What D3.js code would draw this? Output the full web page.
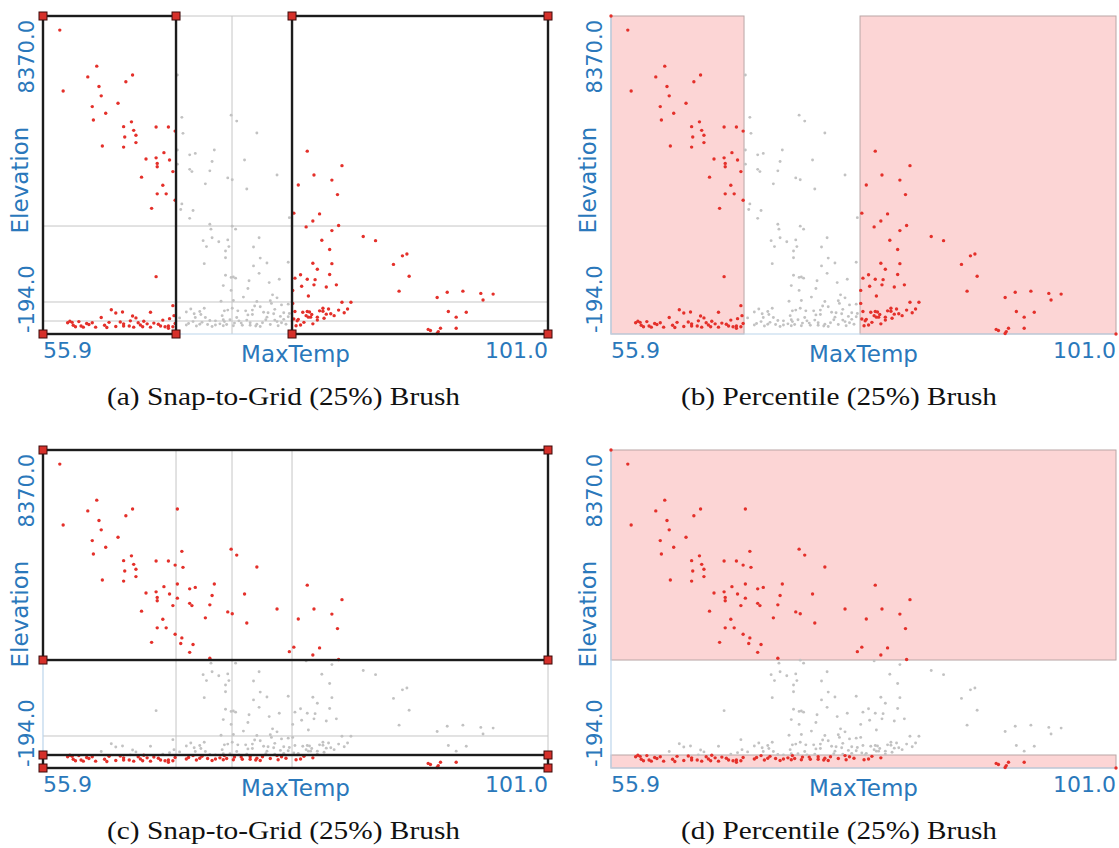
<!DOCTYPE html>
<html>
<head>
<meta charset="utf-8">
<script src="https://cdn.jsdelivr.net/npm/d3@7"></script>
<style>
  body { margin: 0; background: #fff; }
  text { font-family: "DejaVu Sans", Verdana, sans-serif; }
  .caption { font-family: "Liberation Serif", "Times New Roman", serif; fill: #111; }
</style>
</head>
<body>
<script>

  // weather stations: max temperature (F) and elevation (ft)
  var maxTemp = [
    55.9, 101.0,
    // cold / high stations
    57.4, 57.7, 59.9, 60.7, 60.9, 61.1, 60.3, 60.4, 61.5, 62.6, 63.3, 63.9, 61.2, 63.1, 63.8, 63.2,
    64.0, 64.2, 64.2, 63.1, 66.0, 67.1, 67.7, 65.1, 66.0, 66.7, 67.2, 66.1, 66.1, 67.5, 64.7, 66.6,
    66.1, 66.9, 65.6, 67.7, 66.0,
    // cold / low stations
    62.0, 62.4, 63.0, 61.1, 63.9, 64.2, 65.5, 67.5, 67.6, 67.2, 58.1, 58.5, 58.6, 58.8, 59.1, 59.3,
    59.5, 60.3, 61.8, 63.1, 63.1, 63.6, 63.7, 64.0, 64.4, 64.6, 64.8, 65.8, 66.6, 66.4, 66.8, 67.1,
    67.1, 67.5, 67.7, 58.3, 60.6, 62.4, 65.5, 65.2, 60.0, 61.4, 62.8, 64.9, 66.2, 61.6, 59.8,
    // middle temperatures
    67.9, 68.3, 68.4, 67.9, 72.7, 73.2, 75.0, 69.0, 69.5, 71.2, 71.0, 73.9, 67.9, 69.0, 69.2, 70.8,
    72.4, 72.8, 76.8, 70.4, 74.1, 68.3, 68.2, 69.3, 69.0, 70.8, 70.9, 70.2, 70.5, 71.0, 71.6, 72.4,
    72.5, 72.8, 73.1, 75.2, 74.7, 72.2, 72.2, 75.3, 75.9, 74.7, 75.2, 70.3, 72.2, 72.7, 72.9, 73.1,
    74.3, 77.0, 72.0, 76.1, 77.8, 77.9, 74.2, 72.7, 73.8, 76.4, 76.8, 76.2, 76.3, 71.8, 72.9, 75.0,
    75.3, 77.2, 77.8, 70.3, 69.9, 69.4, 72.1, 72.4, 72.8, 73.3, 74.0, 74.6, 74.2, 74.6, 75.6, 76.0,
    76.5, 77.4, 77.1, 69.5, 70.4, 70.8, 71.3, 72.0, 72.1, 72.6, 73.4, 73.6, 74.4, 75.0, 75.3, 75.8,
    76.6, 76.8, 77.2, 77.6, 69.9, 71.3, 72.9, 74.4, 72.0, 69.3, 77.8, 77.9, 68.7, 68.1, 68.7,
    68.9, 69.6, 70.1, 70.6, 71.0, 71.7, 72.3, 73.0, 73.7, 74.1, 74.9, 75.5, 76.2, 76.9, 77.4, 73.2,
    71.9, 75.9, 70.0, 69.1, 76.6, 74.8,
    // hot stations
    79.5, 82.6, 80.1, 81.7, 78.7, 82.2, 78.3, 80.6, 80.0, 79.4, 82.3, 81.7, 84.5, 85.6, 80.8, 81.5,
    88.0, 88.4, 87.2, 80.0, 81.7, 80.4, 88.6, 78.9, 78.4, 79.5, 80.2, 81.5, 79.0, 80.1, 81.2, 82.1,
    87.7, 79.6, 91.1, 92.0, 93.4, 95.0, 96.1, 95.2, 82.6, 83.4, 83.1, 82.8, 80.9, 81.4, 79.1, 79.5,
    79.7, 80.6, 81.2, 81.6, 79.4, 79.6, 80.4, 80.4, 78.7, 78.6, 78.9, 92.1, 93.7, 92.8, 92.8, 90.3,
    90.5, 91.4, 91.2, 91.1, 78.2, 78.2, 78.3, 79.8, 78.4, 79.9, 80.9, 81.9, 82.3, 79.2, 80.0, 78.5,
    81.0
  ];

  var elevation = [
    8370, -194,
    7990, 6350, 6730, 7020, 6470, 6220, 5930, 5570, 5750, 6020, 6600, 6780, 4870, 5390, 5520, 5110,
    5290, 5160, 4960, 4840, 5380, 5380, 5270, 4520, 4550, 4690, 4490, 4400, 4310, 4180, 4030, 3810,
    3580, 3580, 3190, 3410, 1350,
    460, 370, 400, 250, 290, 240, 390, 570, 300, 220, 110, 120, 40, 0, 140, 20,
    -10, 110, 120, 80, 20, 20, 160, -10, 110, 50, 0, 100, 180, 20, 0, 20,
    -40, 0, 90, 150, -10, 10, -10, 80, 60, 40, 130, 150, 70, -20, 90,
    6780, 5640, 5210, 4760, 5700, 5540, 5220, 4630, 4670, 4760, 4450, 4490, 4380, 4240, 4180, 4200,
    4010, 3960, 4090, 3850, 3710, 3310, 3160, 3130, 2920, 2760, 2630, 2320, 2160, 2400, 2290, 2340,
    2160, 2710, 2630, 2400, 2150, 2040, 1860, 1850, 1720, 1640, 1440, 1700, 1390, 1330, 1340, 1310,
    1240, 1280, 1110, 1190, 1740, 2940, 1030, 980, 800, 860, 780, 700, 630, 690, 710, 680,
    540, 590, 610, 500, 410, 350, 430, 450, 500, 430, 430, 450, 320, 330, 390, 380,
    350, 380, 280, 250, 250, 170, 160, 190, 140, 190, 160, 100, 110, 70, 10, 190,
    180, 140, 110, 70, 70, 50, 30, 40, 30, 140, 270, 360, 400, 240, 50,
    90, 20, 120, 60, 10, 80, 60, 100, 40, 180, 20, 110, 60, 30, 200, 250,
    300, 260, 330, 480, 470, 560,
    4730, 4340, 4090, 3950, 3820, 3560, 3060, 3040, 2850, 2690, 2730, 2590, 2430, 2320, 2330, 2080,
    1910, 1960, 1680, 1710, 1700, 1550, 1360, 1400, 1310, 1280, 1270, 1410, 1090, 1130, 1070, 1130,
    960, 830, 790, 930, 960, 900, 880, 720, 660, 660, 480, 380, 500, 480, 390, 410,
    400, 430, 340, 350, 300, 260, 260, 180, 200, 160, 50, 410, 390, 260, -40, -70,
    -100, -40, -130, -180, 980, 630, 210, 260, 410, 330, 420, 300, 450, 120, 80, 30,
    230
  ];

  var tempExtent = [55.9, 101.0],
      elevExtent = [-194, 8370];

  // 25% grid lines (quartiles)
  var tempQuartiles = [67.78, 72.78, 78.14],
      elevQuartiles = [156, 668, 2714];

  var xTickLabels = ['55.9', '101.0'],
      yTickLabels = ['-194.0', '8370.0'];

  var captions = [
    '(a) Snap-to-Grid (25%) Brush',
    '(b) Percentile (25%) Brush',
    '(c) Snap-to-Grid (25%) Brush',
    '(d) Percentile (25%) Brush'
  ];
  var brushKinds = ['snap', 'percentile', 'snap', 'percentile'],
      brushDims = ['x', 'x', 'y', 'y'];

  var width = 1119,
      height = 848,
      plotW = 505,
      plotH = 318,
      colX = [43, 611],
      rowY = [16, 450],
      captionX = [283.5, 839],
      captionY = [405, 839],
      captionW = [353, 316];

  var blue = '#2a78bb',
      red = '#e4302a',
      grey = '#c2c2c2';

  var stations = maxTemp.map(function(t, i) {
    return {t: t, e: elevation[i]};
  });

  var x = d3.scaleLinear().domain(tempExtent).range([0, plotW]);
  var y = d3.scaleLinear().domain(elevExtent).range([plotH, 0]);

  var svg = d3.select('body')
    .append('svg')
      .attr('width', width)
      .attr('height', height);

  captions.forEach(function(caption, idx) {
    var col = idx % 2,
        row = Math.floor(idx / 2),
        kind = brushKinds[idx],
        dim = brushDims[idx];

    // brushed ranges: lower and upper quartile of one dimension
    var ranges = dim === 'x'
      ? [[tempExtent[0], tempQuartiles[0]], [tempQuartiles[2], tempExtent[1]]]
      : [[elevQuartiles[2], elevExtent[1]], [elevExtent[0], elevQuartiles[0]]];

    var boxes = ranges.map(function(r) {
      if (dim === 'x') return {x0: x(r[0]), x1: x(r[1]), y0: 0, y1: plotH};
      return {x0: 0, x1: plotW, y0: y(r[1]), y1: y(r[0])};
    });

    function selected(d) {
      var v = dim === 'x' ? d.t : d.e;
      return ranges.some(function(r) { return v >= r[0] && v <= r[1]; });
    }

    var g = svg.append('g')
      .attr('transform', 'translate(' + colX[col] + ',' + rowY[row] + ')');

    if (kind === 'percentile') {
      g.selectAll('.fill')
        .data(boxes)
        .enter()
      .append('rect')
        .attr('class', 'fill')
        .attr('x', function(b) { return b.x0; })
        .attr('y', function(b) { return b.y0; })
        .attr('width', function(b) { return b.x1 - b.x0; })
        .attr('height', function(b) { return b.y1 - b.y0; })
        .attr('fill', '#fcd5d5')
        .attr('stroke', '#b9a6a6')
        .attr('stroke-width', 1);
    } else {
      // quartile grid plus top/right frame
      g.selectAll('.vgrid')
        .data(tempQuartiles.concat([tempExtent[1]]))
        .enter()
      .append('line')
        .attr('x1', function(d) { return x(d); })
        .attr('x2', function(d) { return x(d); })
        .attr('y1', 0)
        .attr('y2', plotH)
        .attr('stroke', '#c6c6c6');
      g.selectAll('.hgrid')
        .data(elevQuartiles.concat([elevExtent[1]]))
        .enter()
      .append('line')
        .attr('x1', 0)
        .attr('x2', plotW)
        .attr('y1', function(d) { return y(d); })
        .attr('y2', function(d) { return y(d); })
        .attr('stroke', '#c6c6c6');
    }

    // left and bottom axis lines
    g.append('path')
      .attr('d', 'M0,0V' + plotH + 'H' + plotW)
      .attr('fill', 'none')
      .attr('stroke', '#bcd5ec')
      .attr('stroke-width', 1.2);

    g.selectAll('.dot')
      .data(stations.slice().sort(function(a, b) { return selected(a) - selected(b); }))
      .enter()
    .append('circle')
      .attr('cx', function(d) { return x(d.t); })
      .attr('cy', function(d) { return y(d.e); })
      .attr('r', function(d) { return selected(d) ? 1.7 : 1.45; })
      .attr('fill', function(d) { return selected(d) ? red : grey; });

    if (kind === 'snap') {
      g.selectAll('.box')
        .data(boxes)
        .enter()
      .append('rect')
        .attr('x', function(b) { return b.x0; })
        .attr('y', function(b) { return b.y0; })
        .attr('width', function(b) { return b.x1 - b.x0; })
        .attr('height', function(b) { return b.y1 - b.y0; })
        .attr('fill', 'none')
        .attr('stroke', '#1c1c1c')
        .attr('stroke-width', 2.4);

      var corners = [];
      boxes.forEach(function(b) {
        corners.push([b.x0, b.y0], [b.x1, b.y0], [b.x0, b.y1], [b.x1, b.y1]);
      });
      g.selectAll('.handle')
        .data(corners)
        .enter()
      .append('rect')
        .attr('x', function(c) { return c[0] - 4; })
        .attr('y', function(c) { return c[1] - 4; })
        .attr('width', 8)
        .attr('height', 8)
        .attr('fill', '#d6302a')
        .attr('stroke', '#3c0a0a')
        .attr('stroke-width', 1);
    }

    // tick labels at the ends of each axis
    g.append('text')
      .attr('x', x(tempExtent[0]))
      .attr('y', plotH + 24)
      .attr('font-size', 22)
      .attr('fill', blue)
      .text(xTickLabels[0]);
    g.append('text')
      .attr('x', x(tempExtent[1]))
      .attr('y', plotH + 24)
      .attr('text-anchor', 'end')
      .attr('font-size', 22)
      .attr('fill', blue)
      .text(xTickLabels[1]);
    g.append('text')
      .attr('x', plotW / 2)
      .attr('y', plotH + 28)
      .attr('text-anchor', 'middle')
      .attr('font-size', 23)
      .attr('fill', blue)
      .text('MaxTemp');

    g.append('text')
      .attr('transform', 'translate(-9,' + (y(elevExtent[0]) - 1) + ') rotate(-90)')
      .attr('font-size', 21)
      .attr('fill', blue)
      .text(yTickLabels[0]);
    g.append('text')
      .attr('transform', 'translate(-9,' + (y(elevExtent[1]) + 4) + ') rotate(-90)')
      .attr('text-anchor', 'end')
      .attr('font-size', 21)
      .attr('fill', blue)
      .text(yTickLabels[1]);
    g.append('text')
      .attr('transform', 'translate(-15,' + (plotH / 2 + 5) + ') rotate(-90)')
      .attr('text-anchor', 'middle')
      .attr('font-size', 23)
      .attr('fill', blue)
      .text('Elevation');

    svg.append('text')
      .attr('class', 'caption')
      .attr('x', captionX[col])
      .attr('y', captionY[row])
      .attr('text-anchor', 'middle')
      .attr('font-size', 26)
      .attr('textLength', captionW[col])
      .attr('lengthAdjust', 'spacingAndGlyphs')
      .text(caption);
  });

</script>
</body>
</html>
